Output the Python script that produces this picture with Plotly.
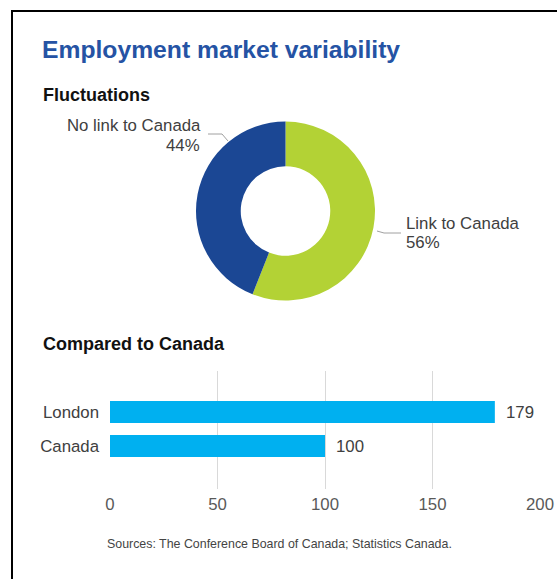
import plotly.graph_objects as go

W, H = 557, 579

# Donut data
share_labels = ["Link to Canada", "No link to Canada"]
share_values = [56, 44]
share_colors = ["#b3d235", "#1b4794"]

# Bar data
regions = ["Canada", "London"]
index_values = [100, 179]
x_ticks = [0, 50, 100, 150, 200]

FONT = "Liberation Sans, Arial, sans-serif"
TEXT = "#404040"


def px(x):
    return x / W


def py(y):
    return 1 - y / H


fig = go.Figure()

fig.add_trace(go.Pie(
    labels=share_labels,
    values=share_values,
    hole=0.5,
    sort=False,
    direction="clockwise",
    rotation=0,
    marker=dict(colors=share_colors, line=dict(width=0)),
    textinfo="none",
    hoverinfo="label+percent",
    showlegend=False,
    domain=dict(x=[px(196), px(375)], y=[py(300.5), py(121.5)]),
))

fig.add_trace(go.Bar(
    y=regions,
    x=index_values,
    orientation="h",
    width=0.65,
    marker=dict(color="#00b0f0", line=dict(width=0)),
    xaxis="x",
    yaxis="y",
    showlegend=False,
))

annotations = [
    dict(text="<b>Employment market variability</b>", x=px(40), y=py(49),
         xanchor="left", yanchor="middle",
         font=dict(family=FONT, size=24.7, color="#2553a4")),
    dict(text="<b>Fluctuations</b>", x=px(41), y=py(95),
         xanchor="left", yanchor="middle",
         font=dict(family=FONT, size=18, color="#111111")),
    dict(text="<b>Compared to Canada</b>", x=px(41), y=py(344),
         xanchor="left", yanchor="middle",
         font=dict(family=FONT, size=18, color="#111111")),
    dict(text="Sources: The Conference Board of Canada; Statistics Canada.",
         x=px(105), y=py(544), xanchor="left", yanchor="middle",
         font=dict(family=FONT, size=12.4, color="#444444")),
]

# Donut labels: name and percentage on separate lines
total = sum(share_values)
pct = [f"{round(v * 100 / total)}%" for v in share_values]
annotations += [
    dict(text=share_labels[1], x=px(203), y=py(125), xanchor="right", yanchor="middle",
         font=dict(family=FONT, size=16.8, color=TEXT)),
    dict(text=pct[1], x=px(202), y=py(145), xanchor="right", yanchor="middle",
         font=dict(family=FONT, size=16.8, color=TEXT)),
    dict(text=share_labels[0], x=px(404), y=py(223), xanchor="left", yanchor="middle",
         font=dict(family=FONT, size=16.8, color=TEXT)),
    dict(text=pct[0], x=px(404), y=py(243), xanchor="left", yanchor="middle",
         font=dict(family=FONT, size=16.8, color=TEXT)),
]

# Value labels at the end of each bar
for r, v in zip(regions, index_values):
    annotations.append(dict(
        text=str(v), x=v, y=r, xref="x", yref="y",
        xanchor="left", yanchor="middle", xshift=9, showarrow=False,
        font=dict(family=FONT, size=16.8, color=TEXT)))

for a in annotations:
    a.setdefault("xref", "paper")
    a.setdefault("yref", "paper")
    a.setdefault("showarrow", False)

leader = dict(color="#a0a0a0", width=1)
shapes = [
    # frame around the panel
    dict(type="rect", xref="paper", yref="paper",
         x0=px(12), x1=1.2, y0=-0.2, y1=py(11),
         line=dict(color="#000000", width=2), fillcolor="rgba(0,0,0,0)", layer="above"),
    dict(type="path", xref="paper", yref="paper",
         path=f"M {px(208)} {py(134)} L {px(222)} {py(134)} L {px(228)} {py(141)}",
         line=leader),
    dict(type="path", xref="paper", yref="paper",
         path=f"M {px(377)} {py(231)} L {px(384)} {py(233)} L {px(401)} {py(233)}",
         line=leader),
]

fig.update_layout(
    width=W, height=H,
    margin=dict(l=0, r=0, t=0, b=0, pad=0),
    paper_bgcolor="white", plot_bgcolor="white",
    font=dict(family=FONT, color=TEXT),
    annotations=annotations,
    shapes=shapes,
    xaxis=dict(
        domain=[px(110), px(540)], anchor="y",
        range=[0, 200], tickvals=x_ticks,
        showgrid=True, gridcolor="#d9d9d9", gridwidth=1,
        zeroline=False, showline=False, ticks="",
        ticklabelstandoff=3, automargin=False,
        tickfont=dict(family=FONT, size=16.8, color="#595959"),
        fixedrange=True,
    ),
    yaxis=dict(
        domain=[py(489), py(371)], anchor="x",
        categoryorder="array", categoryarray=regions,
        range=[-1.265, 2.206],
        showgrid=False, zeroline=False, showline=False, ticks="",
        ticklabelstandoff=10, automargin=False,
        tickfont=dict(family=FONT, size=16.8, color=TEXT),
        fixedrange=True,
    ),
    bargap=0.35,
)

fig.write_html("out.html")
